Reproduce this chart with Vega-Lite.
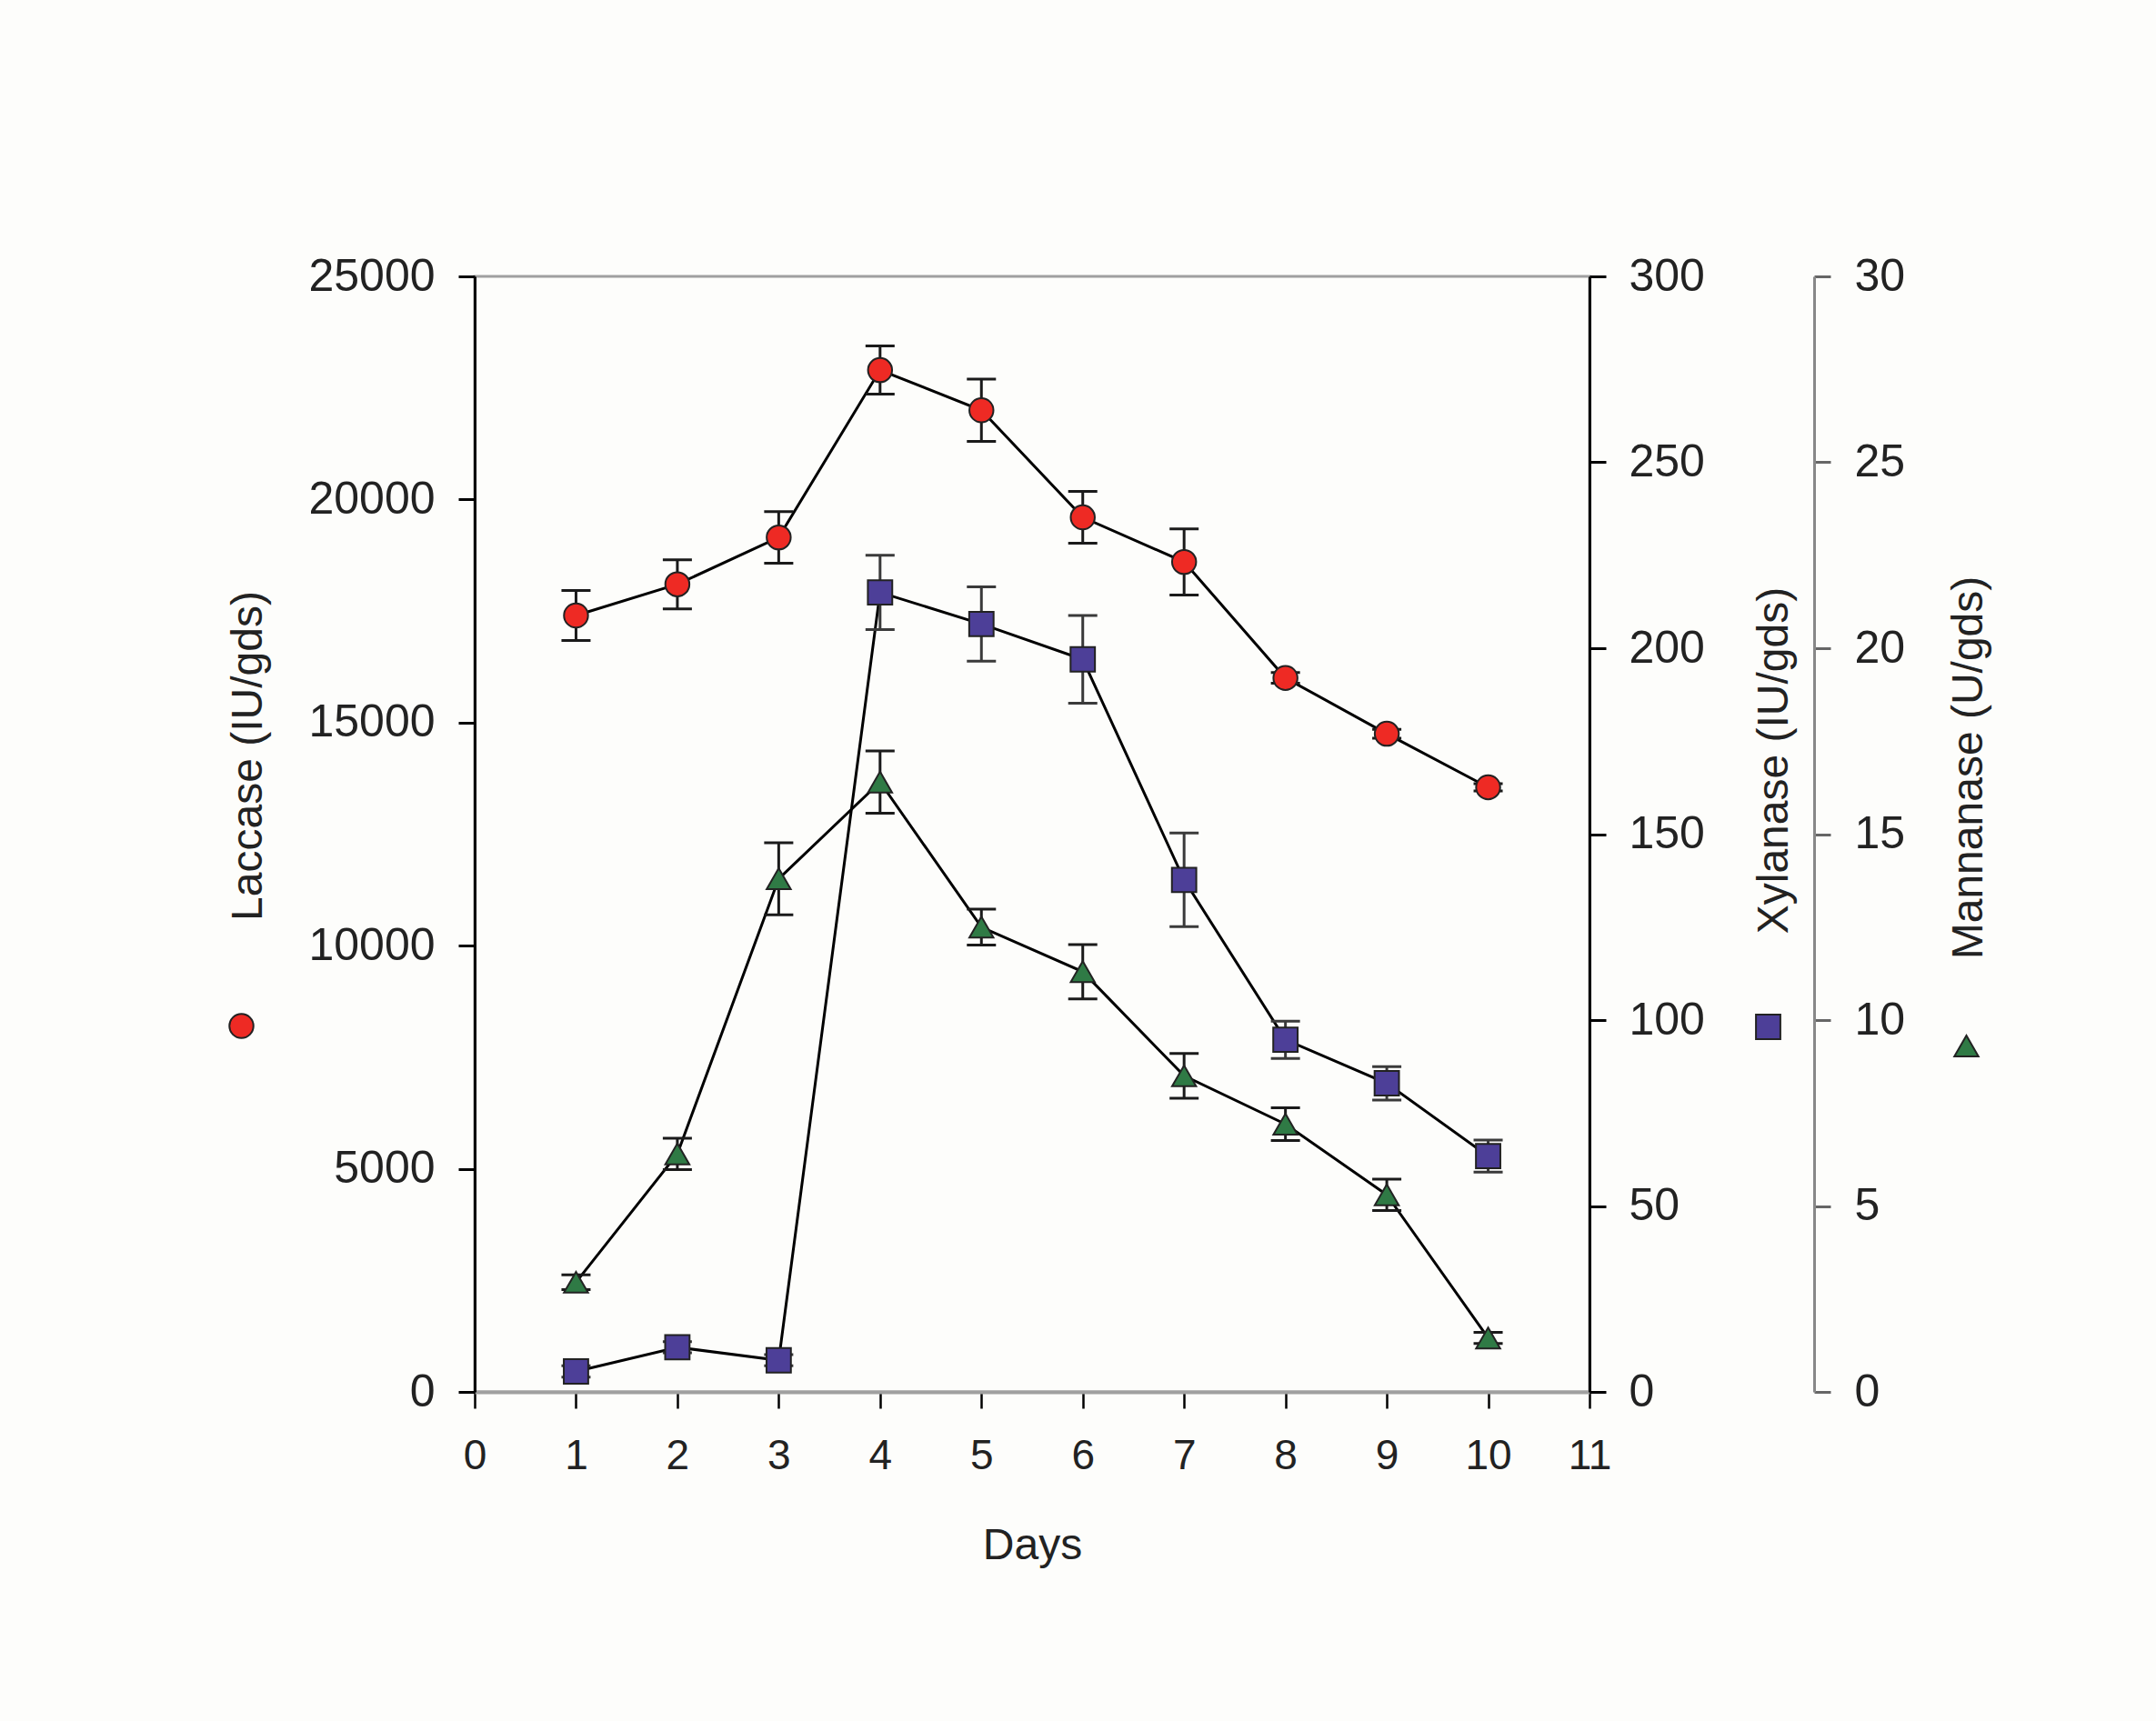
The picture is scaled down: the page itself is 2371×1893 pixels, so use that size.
{
  "$schema": "https://vega.github.io/schema/vega-lite/v6.json",
  "background": "#fdfdfb",
  "autosize": {"type": "none"},
  "width": 1226,
  "height": 1227,
  "padding": {"left": 522, "top": 304, "right": 623, "bottom": 362},
  "config": {
    "view": {"stroke": "#a0a0a0", "strokeWidth": 3},
    "axis": {"grid": false, "titleFontWeight": "normal", "labelColor": "#222", "titleColor": "#222"}
  },
  "datasets": {
    "lac": [
      {"day": 1, "series": "Laccase", "v": 17400, "lo": 16840, "hi": 17960},
      {"day": 2, "series": "Laccase", "v": 18100, "lo": 17550, "hi": 18650},
      {"day": 3, "series": "Laccase", "v": 19150, "lo": 18570, "hi": 19730},
      {"day": 4, "series": "Laccase", "v": 22900, "lo": 22360, "hi": 23440},
      {"day": 5, "series": "Laccase", "v": 22000, "lo": 21300, "hi": 22700},
      {"day": 6, "series": "Laccase", "v": 19600, "lo": 19020, "hi": 20180},
      {"day": 7, "series": "Laccase", "v": 18600, "lo": 17860, "hi": 19340},
      {"day": 8, "series": "Laccase", "v": 16000, "lo": 15880, "hi": 16120},
      {"day": 9, "series": "Laccase", "v": 14750, "lo": 14650, "hi": 14850},
      {"day": 10, "series": "Laccase", "v": 13550, "lo": 13470, "hi": 13630}
    ],
    "xyl": [
      {"day": 1, "series": "Xylanase", "v": 5.5, "lo": 4.0, "hi": 7.0},
      {"day": 2, "series": "Xylanase", "v": 12, "lo": 10.5, "hi": 13.5},
      {"day": 3, "series": "Xylanase", "v": 8.5, "lo": 7.0, "hi": 10.0},
      {"day": 4, "series": "Xylanase", "v": 215, "lo": 205, "hi": 225},
      {"day": 5, "series": "Xylanase", "v": 206.5, "lo": 196.5, "hi": 216.5},
      {"day": 6, "series": "Xylanase", "v": 197, "lo": 185.2, "hi": 208.8},
      {"day": 7, "series": "Xylanase", "v": 137.7, "lo": 125.1, "hi": 150.3},
      {"day": 8, "series": "Xylanase", "v": 94.7, "lo": 89.7, "hi": 99.7},
      {"day": 9, "series": "Xylanase", "v": 83, "lo": 78.5, "hi": 87.5},
      {"day": 10, "series": "Xylanase", "v": 63.4, "lo": 59.1, "hi": 67.7}
    ],
    "man": [
      {"day": 1, "series": "Mannanase", "v": 2.95, "lo": 2.75, "hi": 3.15},
      {"day": 2, "series": "Mannanase", "v": 6.4, "lo": 5.98, "hi": 6.82},
      {"day": 3, "series": "Mannanase", "v": 13.8, "lo": 12.83, "hi": 14.77},
      {"day": 4, "series": "Mannanase", "v": 16.4, "lo": 15.56, "hi": 17.24},
      {"day": 5, "series": "Mannanase", "v": 12.5, "lo": 12.02, "hi": 12.98},
      {"day": 6, "series": "Mannanase", "v": 11.3, "lo": 10.57, "hi": 12.03},
      {"day": 7, "series": "Mannanase", "v": 8.5, "lo": 7.9, "hi": 9.1},
      {"day": 8, "series": "Mannanase", "v": 7.2, "lo": 6.76, "hi": 7.64},
      {"day": 9, "series": "Mannanase", "v": 5.3, "lo": 4.88, "hi": 5.72},
      {"day": 10, "series": "Mannanase", "v": 1.45, "lo": 1.3, "hi": 1.6}
    ]
  },
  "resolve": {"scale": {"y": "independent", "color": "independent", "shape": "independent"}},
  "layer": [
    {
      "data": {"name": "lac"},
      "layer": [
        {
          "mark": {"type": "line", "color": "black", "strokeWidth": 3},
          "encoding": {
            "x": {"field": "day", "type": "quantitative", "title": "Days", "scale": {"domain": [0, 11], "nice": false},
              "axis": {"values": [0,1,2,3,4,5,6,7,8,9,10,11], "format": "d", "labelOverlap": false, "labelFlush": false, "domainColor": "#a0a0a0", "domainWidth": 4, "tickColor": "black", "tickWidth": 2.5, "tickSize": 18,
                "labelFont": "Liberation Sans", "labelFontSize": 46, "labelPadding": 30,
                "titleFont": "Liberation Sans", "titleFontSize": 48, "titleY": 169, "titleBaseline": "middle"}},
            "y": {"field": "v", "type": "quantitative", "title": "Laccase (IU/gds)", "scale": {"domain": [0, 25000], "nice": false},
              "axis": {"orient": "left", "values": [0,5000,10000,15000,20000,25000], "format": "d",
                "domainColor": "black", "domainWidth": 3, "tickColor": "black", "tickWidth": 3, "tickSize": 18,
                "labelFont": "Liberation Sans", "labelFontSize": 50, "labelPadding": 26,
                "titleFont": "Liberation Sans", "titleFontSize": 48, "titleX": -249, "titleY": 527, "titleAngle": -90, "titleAlign": "center", "titleBaseline": "middle"}}
          }
        },
        {
          "mark": {"type": "rule", "color": "#1a1a1a", "strokeWidth": 3},
          "encoding": {
            "x": {"field": "day", "type": "quantitative"},
            "y": {"field": "lo", "type": "quantitative", "title": "Laccase (IU/gds)"},
            "y2": {"field": "hi"}
          }
        },
        {
          "mark": {"type": "tick", "orient": "horizontal", "color": "#1a1a1a", "size": 32, "thickness": 3, "opacity": 1},
          "encoding": {
            "x": {"field": "day", "type": "quantitative"},
            "y": {"field": "lo", "type": "quantitative", "title": "Laccase (IU/gds)"}
          }
        },
        {
          "mark": {"type": "tick", "orient": "horizontal", "color": "#1a1a1a", "size": 32, "thickness": 3, "opacity": 1},
          "encoding": {
            "x": {"field": "day", "type": "quantitative"},
            "y": {"field": "hi", "type": "quantitative", "title": "Laccase (IU/gds)"}
          }
        },
        {
          "mark": {"type": "point", "filled": true, "size": 700, "stroke": "#222", "strokeWidth": 2, "opacity": 1},
          "encoding": {
            "x": {"field": "day", "type": "quantitative"},
            "y": {"field": "v", "type": "quantitative", "title": "Laccase (IU/gds)"},
            "color": {"field": "series", "type": "nominal", "scale": {"range": ["#ee2a24"]},
              "legend": {"orient": "none", "legendX": -271, "legendY": 810, "title": null, "labelExpr": "''", "padding": 0, "symbolSize": 700, "symbolStrokeColor": "#222", "symbolStrokeWidth": 2}},
            "shape": {"field": "series", "type": "nominal", "scale": {"range": ["circle"]},
              "legend": {"orient": "none", "legendX": -271, "legendY": 810, "title": null, "labelExpr": "''", "padding": 0, "symbolSize": 700, "symbolStrokeColor": "#222", "symbolStrokeWidth": 2}}
          }
        }
      ]
    },
    {
      "data": {"name": "xyl"},
      "layer": [
        {
          "mark": {"type": "line", "color": "black", "strokeWidth": 3},
          "encoding": {
            "x": {"field": "day", "type": "quantitative"},
            "y": {"field": "v", "type": "quantitative", "title": "Xylanase (IU/gds)", "scale": {"domain": [0, 300], "nice": false},
              "axis": {"orient": "right", "values": [0,50,100,150,200,250,300],
                "domainColor": "black", "domainWidth": 3, "tickColor": "black", "tickWidth": 3, "tickSize": 18,
                "labelFont": "Liberation Sans", "labelFontSize": 50, "labelPadding": 25,
                "titleFont": "Liberation Sans", "titleFontSize": 48, "titleX": 203, "titleY": 532, "titleAngle": -90, "titleAlign": "center", "titleBaseline": "middle"}}
          }
        },
        {
          "mark": {"type": "rule", "color": "#3a3a3a", "strokeWidth": 3},
          "encoding": {
            "x": {"field": "day", "type": "quantitative"},
            "y": {"field": "lo", "type": "quantitative", "title": "Xylanase (IU/gds)"},
            "y2": {"field": "hi"}
          }
        },
        {
          "mark": {"type": "tick", "orient": "horizontal", "color": "#3a3a3a", "size": 32, "thickness": 3, "opacity": 1},
          "encoding": {
            "x": {"field": "day", "type": "quantitative"},
            "y": {"field": "lo", "type": "quantitative", "title": "Xylanase (IU/gds)"}
          }
        },
        {
          "mark": {"type": "tick", "orient": "horizontal", "color": "#3a3a3a", "size": 32, "thickness": 3, "opacity": 1},
          "encoding": {
            "x": {"field": "day", "type": "quantitative"},
            "y": {"field": "hi", "type": "quantitative", "title": "Xylanase (IU/gds)"}
          }
        },
        {
          "mark": {"type": "point", "filled": true, "size": 720, "stroke": "#222", "strokeWidth": 2, "opacity": 1},
          "encoding": {
            "x": {"field": "day", "type": "quantitative"},
            "y": {"field": "v", "type": "quantitative", "title": "Xylanase (IU/gds)"},
            "color": {"field": "series", "type": "nominal", "scale": {"range": ["#4d3f98"]},
              "legend": {"orient": "none", "legendX": 1408, "legendY": 811, "title": null, "labelExpr": "''", "padding": 0, "symbolSize": 720, "symbolStrokeColor": "#222", "symbolStrokeWidth": 2}},
            "shape": {"field": "series", "type": "nominal", "scale": {"range": ["square"]},
              "legend": {"orient": "none", "legendX": 1408, "legendY": 811, "title": null, "labelExpr": "''", "padding": 0, "symbolSize": 720, "symbolStrokeColor": "#222", "symbolStrokeWidth": 2}}
          }
        }
      ]
    },
    {
      "data": {"name": "man"},
      "layer": [
        {
          "mark": {"type": "line", "color": "black", "strokeWidth": 3},
          "encoding": {
            "x": {"field": "day", "type": "quantitative"},
            "y": {"field": "v", "type": "quantitative", "title": "Mannanase (U/gds)", "scale": {"domain": [0, 30], "nice": false},
              "axis": {"orient": "right", "offset": 247, "values": [0,5,10,15,20,25,30],
                "domainColor": "#888", "domainWidth": 3, "tickColor": "#666", "tickWidth": 3, "tickSize": 18,
                "labelFont": "Liberation Sans", "labelFontSize": 50, "labelPadding": 26,
                "titleFont": "Liberation Sans", "titleFontSize": 48, "titleX": 170, "titleY": 540, "titleAngle": -90, "titleAlign": "center", "titleBaseline": "middle"}}
          }
        },
        {
          "mark": {"type": "rule", "color": "#1a1a1a", "strokeWidth": 3},
          "encoding": {
            "x": {"field": "day", "type": "quantitative"},
            "y": {"field": "lo", "type": "quantitative", "title": "Mannanase (U/gds)"},
            "y2": {"field": "hi"}
          }
        },
        {
          "mark": {"type": "tick", "orient": "horizontal", "color": "#1a1a1a", "size": 32, "thickness": 3, "opacity": 1},
          "encoding": {
            "x": {"field": "day", "type": "quantitative"},
            "y": {"field": "lo", "type": "quantitative", "title": "Mannanase (U/gds)"}
          }
        },
        {
          "mark": {"type": "tick", "orient": "horizontal", "color": "#1a1a1a", "size": 32, "thickness": 3, "opacity": 1},
          "encoding": {
            "x": {"field": "day", "type": "quantitative"},
            "y": {"field": "hi", "type": "quantitative", "title": "Mannanase (U/gds)"}
          }
        },
        {
          "mark": {"type": "point", "filled": true, "size": 700, "stroke": "#222", "strokeWidth": 2, "opacity": 1},
          "encoding": {
            "x": {"field": "day", "type": "quantitative"},
            "y": {"field": "v", "type": "quantitative", "title": "Mannanase (U/gds)"},
            "color": {"field": "series", "type": "nominal", "scale": {"range": ["#2f7a45"]},
              "legend": {"orient": "none", "legendX": 1626, "legendY": 832, "title": null, "labelExpr": "''", "padding": 0, "symbolSize": 700, "symbolStrokeColor": "#222", "symbolStrokeWidth": 2}},
            "shape": {"field": "series", "type": "nominal", "scale": {"range": ["triangle-up"]},
              "legend": {"orient": "none", "legendX": 1626, "legendY": 832, "title": null, "labelExpr": "''", "padding": 0, "symbolSize": 700, "symbolStrokeColor": "#222", "symbolStrokeWidth": 2}}
          }
        }
      ]
    }
  ]
}
